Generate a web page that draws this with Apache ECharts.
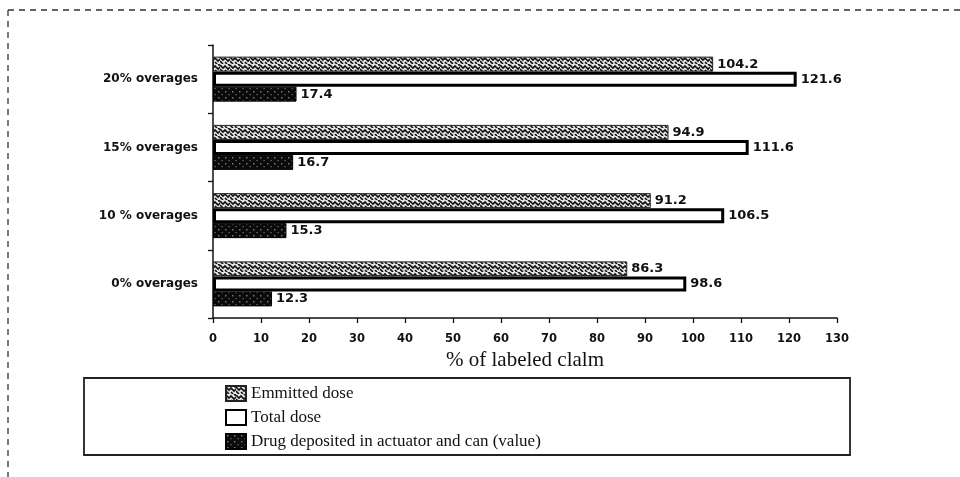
<!DOCTYPE html>
<html>
<head>
<meta charset="utf-8">
<script src="https://cdn.jsdelivr.net/npm/echarts@6/dist/echarts.min.js"></script>
<style>
html,body{margin:0;padding:0;background:#fff;}
#chart{width:960px;height:477px;}
</style>
</head>
<body>
<div id="chart"></div>
<script>
const categories = ['0% overages', '10 % overages', '15% overages', '20% overages'];
const emittedDose = [86.3, 91.2, 94.9, 104.2];
const totalDose = [98.6, 106.5, 111.6, 121.6];
const drugDeposited = [12.3, 15.3, 16.7, 17.4];
const seriesNames = ['Emmitted dose', 'Total dose', 'Drug deposited in actuator and can (value)'];
const xTicks = { min: 0, max: 130, interval: 10 };

function makeZigzag() {
  const c = document.createElement('canvas');
  c.width = 10; c.height = 8;
  const g = c.getContext('2d');
  g.fillStyle = '#e4e4e4';
  g.fillRect(0, 0, 10, 8);
  g.strokeStyle = '#111';
  g.lineWidth = 1.6;
  g.beginPath();
  g.moveTo(0, 1); g.lineTo(3, 4); g.lineTo(5, 2); g.lineTo(8, 5); g.lineTo(10, 3);
  g.moveTo(0, 5); g.lineTo(3, 8);
  g.moveTo(5, 6); g.lineTo(7, 8);
  g.moveTo(8, 0); g.lineTo(10, 1.5);
  g.stroke();
  return c;
}
function makeDots() {
  const c = document.createElement('canvas');
  c.width = 7; c.height = 6;
  const g = c.getContext('2d');
  g.fillStyle = '#0a0a0a';
  g.fillRect(0, 0, 7, 6);
  g.fillStyle = '#777';
  g.fillRect(1, 1, 1.5, 1.5);
  g.fillRect(4.5, 4, 1.2, 1.2);
  return c;
}

const sansBold = 'DejaVu Sans, Verdana, sans-serif';
const serif = 'Liberation Serif, Times New Roman, serif';
const chart = echarts.init(document.getElementById('chart'), null, { renderer: 'canvas' });
const labelStyle = {
  show: true, position: 'right', distance: 4,
  color: '#111', fontFamily: sansBold,
  fontWeight: 'bold', fontSize: 13
};
chart.setOption({
  animation: false,
  backgroundColor: '#fff',
  grid: { left: 213, right: 123, top: 45, bottom: 159 },
  xAxis: {
    type: 'value', min: xTicks.min, max: xTicks.max, interval: xTicks.interval,
    axisLine: { show: true, lineStyle: { color: '#111', width: 1.5 } },
    axisTick: { show: true, length: 5, lineStyle: { color: '#111', width: 1.3 } },
    splitLine: { show: false },
    axisLabel: { color: '#111', fontFamily: sansBold, fontWeight: 'bold', fontSize: 11.5, margin: 15 },
    name: '% of labeled clalm', nameLocation: 'middle', nameGap: 32,
    nameTextStyle: { color: '#111', fontFamily: serif, fontSize: 21, verticalAlign: 'top' }
  },
  yAxis: {
    type: 'category', data: categories,
    axisLine: { show: true, lineStyle: { color: '#111', width: 1.5 } },
    axisTick: { show: true, length: 5, inside: false, lineStyle: { color: '#111', width: 1.3 } },
    axisLabel: { color: '#111', fontFamily: sansBold, fontWeight: 'bold', fontSize: 12, margin: 15 }
  },
  legend: {
    orient: 'vertical', left: 225, top: 383, itemGap: 3, padding: 0,
    itemWidth: 20, itemHeight: 15, icon: 'rect',
    data: seriesNames,
    textStyle: { color: '#111', fontFamily: serif, fontSize: 17, lineHeight: 21 }
  },
  graphic: [
    { type: 'line', shape: { x1: 8, y1: 10, x2: 960, y2: 10 }, style: { stroke: '#333', lineWidth: 1.3, lineDash: [6, 5] } },
    { type: 'line', shape: { x1: 8, y1: 10, x2: 8, y2: 477 }, style: { stroke: '#333', lineWidth: 1.3, lineDash: [6, 5] } },
    { type: 'rect', shape: { x: 84, y: 378, width: 766, height: 77 }, style: { fill: 'none', stroke: '#222', lineWidth: 1.8 } }
  ],
  series: [
    {
      name: seriesNames[0], type: 'bar', data: emittedDose, barWidth: 15, barGap: '0%',
      itemStyle: { color: { image: makeZigzag(), repeat: 'repeat' }, borderColor: '#222', borderWidth: 1 },
      label: labelStyle
    },
    {
      name: seriesNames[1], type: 'bar', data: totalDose, barWidth: 15, barGap: '0%',
      itemStyle: { color: '#fff', borderColor: '#000', borderWidth: 3 },
      label: labelStyle
    },
    {
      name: seriesNames[2], type: 'bar', data: drugDeposited, barWidth: 15, barGap: '0%',
      itemStyle: { color: { image: makeDots(), repeat: 'repeat' }, borderColor: '#000', borderWidth: 1 },
      label: labelStyle
    }
  ]
});
</script>
</body>
</html>
